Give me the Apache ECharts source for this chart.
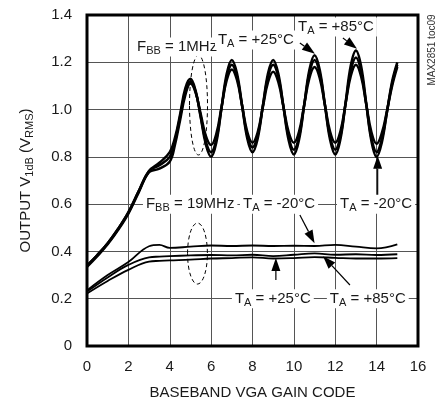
<!DOCTYPE html>
<html>
<head>
<meta charset="utf-8">
<script src="https://cdn.jsdelivr.net/npm/echarts@6/dist/echarts.min.js"></script>
<style>
html,body{margin:0;padding:0;background:#fff;}
#c{width:439px;height:407px;}
</style>
</head>
<body>
<div id="c"></div>
<script>
// ---- data ----
const codes1 = [0,0.5,1,1.5,2,2.5,3,3.5,
  4,4.25,4.5,4.75,5,5.25,5.5,5.75,6,6.25,6.5,6.75,7,7.25,7.5,7.75,8,8.25,8.5,8.75,9,9.25,9.5,9.75,
  10,10.25,10.5,10.75,11,11.25,11.5,11.75,12,12.25,12.5,12.75,13,13.25,13.5,13.75,14,14.25,14.5,14.75,15];
const mhz1A = [0.34,0.385,0.435,0.495,0.565,0.655,0.74,0.775,
  0.82,0.88,0.98,1.09,1.13,1.08,0.965,0.85,0.80,0.86,1.005,1.15,1.21,1.153,1.015,0.877,0.82,0.877,1.015,1.153,1.21,1.151,1.01,0.869,
  0.81,0.872,1.02,1.168,1.23,1.168,1.02,0.872,0.81,0.874,1.03,1.186,1.25,1.184,1.025,0.866,0.80,0.86,0.99,1.12,1.20];
const mhz1B = [0.34,0.385,0.435,0.495,0.565,0.655,0.74,0.765,
  0.80,0.865,0.97,1.075,1.12,1.076,0.97,0.864,0.82,0.874,1.005,1.136,1.19,1.139,1.015,0.891,0.84,0.891,1.015,1.139,1.19,1.137,1.01,0.883,
  0.83,0.886,1.02,1.154,1.21,1.154,1.02,0.886,0.83,0.887,1.025,1.163,1.22,1.161,1.02,0.879,0.82,0.875,0.99,1.11,1.19];
const mhz1C = [0.335,0.38,0.43,0.49,0.56,0.65,0.735,0.75,
  0.78,0.85,0.955,1.06,1.11,1.072,0.98,0.888,0.85,0.897,1.01,1.123,1.17,1.125,1.015,0.905,0.86,0.904,1.01,1.116,1.16,1.116,1.01,0.904,
  0.86,0.907,1.02,1.133,1.18,1.133,1.02,0.907,0.86,0.908,1.025,1.142,1.19,1.14,1.022,0.904,0.855,0.90,0.995,1.10,1.18];

const codes19 = [0,1,2,3,3.5,4,5,6,7,8,9,10,11,12,13,14,15];
const mhz19A = [0.235,0.30,0.355,0.422,0.428,0.415,0.42,0.425,0.423,0.425,0.423,0.424,0.423,0.428,0.42,0.413,0.43];
const mhz19B = [0.23,0.29,0.343,0.375,0.378,0.38,0.383,0.385,0.383,0.386,0.38,0.386,0.392,0.386,0.388,0.385,0.388];
const mhz19C = [0.222,0.275,0.322,0.357,0.36,0.362,0.365,0.37,0.372,0.375,0.37,0.372,0.376,0.373,0.37,0.37,0.372];

const xTicks = [0,2,4,6,8,10,12,14,16];
const yTicks = ['0','0.2','0.4','0.6','0.8','1.0','1.2','1.4'];

// annotations (data coordinates)
const labels = [
  {t:'F{s|BB} = 1MHz', x:2.42, y:1.265},
  {t:'T{s|A} = +25°C', x:6.33, y:1.294},
  {t:'T{s|A} = +85°C', x:10.2, y:1.349},
  {t:'F{s|BB} = 19MHz', x:2.85, y:0.6},
  {t:'T{s|A} = -20°C', x:7.54, y:0.6},
  {t:'T{s|A} = -20°C', x:12.23, y:0.6},
  {t:'T{s|A} = +25°C', x:7.15, y:0.2},
  {t:'T{s|A} = +85°C', x:11.74, y:0.2}
];
const arrows = [
  [[10.29,1.282],[11.02,1.236]],
  [[12.37,1.303],[13.05,1.257]],
  [[14.05,0.626],[14.05,0.805]],
  [[10.29,0.554],[11.0,0.435]],
  [[9.13,0.279],[9.13,0.372]],
  [[12.71,0.258],[11.41,0.38]]
];
const ellipses = [
  {cx:5.39, cy:1.019, rx:0.435, ry:0.211},
  {cx:5.34, cy:0.391, rx:0.48, ry:0.129}
];

const FONT = 'Liberation Sans, Arial, sans-serif';
const zip = (xs, ys) => xs.map((x,i)=>[x, ys[i]]);

const chart = echarts.init(document.getElementById('c'), null, {renderer:'canvas'});

function lineSeries(xs, ys, w){
  return {type:'line', data: zip(xs, ys), smooth:0.4, symbol:'none',
    lineStyle:{color:'#000', width:w}, z:5};
}

chart.setOption({
  animation:false,
  backgroundColor:'#fff',
  grid:{left:87, top:15, width:331, height:331, show:true, borderColor:'#000', borderWidth:3, backgroundColor:'transparent', z:10},
  xAxis:{type:'value', min:0, max:16, interval:2,
    axisLine:{show:false}, axisTick:{show:false},
    splitLine:{show:true, lineStyle:{color:'#555', width:1}},
    axisLabel:{fontSize:15, color:'#1a1a1a', fontFamily:FONT, margin:13,
      formatter:(v)=> xTicks.indexOf(v) >= 0 ? String(v) : ''},
    name:'BASEBAND VGA GAIN CODE', nameLocation:'middle', nameGap:39,
    nameTextStyle:{fontSize:15, color:'#1a1a1a', fontFamily:FONT}
  },
  yAxis:{type:'value', min:0, max:1.4, interval:0.2,
    axisLine:{show:false}, axisTick:{show:false},
    splitLine:{show:true, lineStyle:{color:'#555', width:1}},
    axisLabel:{fontSize:15, color:'#1a1a1a', fontFamily:FONT, margin:15,
      formatter:(v)=> yTicks[Math.round(v/0.2)]},
    name:'OUTPUT V{s|1dB} (V{s|RMS})', nameLocation:'middle', nameGap:52,
    nameTextStyle:{fontSize:15, color:'#1a1a1a', fontFamily:FONT,
      rich:{s:{fontSize:11, color:'#1a1a1a', fontFamily:FONT, padding:[8,0,0,0]}}}
  },
  series:[
    lineSeries(codes1, mhz1A, 2.5),
    lineSeries(codes1, mhz1B, 2.5),
    lineSeries(codes1, mhz1C, 2.5),
    lineSeries(codes19, mhz19A, 1.8),
    lineSeries(codes19, mhz19B, 1.8),
    lineSeries(codes19, mhz19C, 1.8)
  ]
});

const px = (p)=> chart.convertToPixel({gridIndex:0}, p);
const g = [];

ellipses.forEach(e=>{
  const c = px([e.cx, e.cy]);
  const r = px([e.cx + e.rx, e.cy + e.ry]);
  g.push({type:'ellipse', z:50, shape:{cx:c[0], cy:c[1], rx:Math.abs(r[0]-c[0]), ry:Math.abs(r[1]-c[1])},
    style:{fill:null, stroke:'#000', lineWidth:1, lineDash:[4,3]}});
});

arrows.forEach(a=>{
  const t = px(a[0]), h = px(a[1]);
  const dx = h[0]-t[0], dy = h[1]-t[1];
  const L = Math.sqrt(dx*dx+dy*dy), ux = dx/L, uy = dy/L;
  const hl = 13, hw = 4.5;
  const bx = h[0]-ux*hl, by = h[1]-uy*hl;
  g.push({type:'line', z:60, shape:{x1:t[0], y1:t[1], x2:bx, y2:by}, style:{stroke:'#000', lineWidth:1.2}});
  g.push({type:'polygon', z:60, shape:{points:[[h[0],h[1]],[bx-uy*hw, by+ux*hw],[bx+uy*hw, by-ux*hw]]}, style:{fill:'#000'}});
});

labels.forEach(l=>{
  const p = px([l.x, l.y]);
  g.push({type:'text', z:70, x:p[0]-3, y:p[1],
    style:{text:l.t, fontSize:15, fontFamily:FONT, fill:'#1a1a1a', align:'left', verticalAlign:'middle',
      backgroundColor:'#fff', padding:[0,3,0,3],
      rich:{s:{fontSize:11, fontFamily:FONT, fill:'#1a1a1a', padding:[8,0,0,0]}}}});
});

g.push({type:'text', z:70, x:432, y:50, rotation:Math.PI/2,
  style:{text:'MAX2851 toc09', fontSize:10, fontFamily:FONT, fill:'#333', align:'center', verticalAlign:'middle'}});

chart.setOption({graphic:g});
</script>
</body>
</html>
